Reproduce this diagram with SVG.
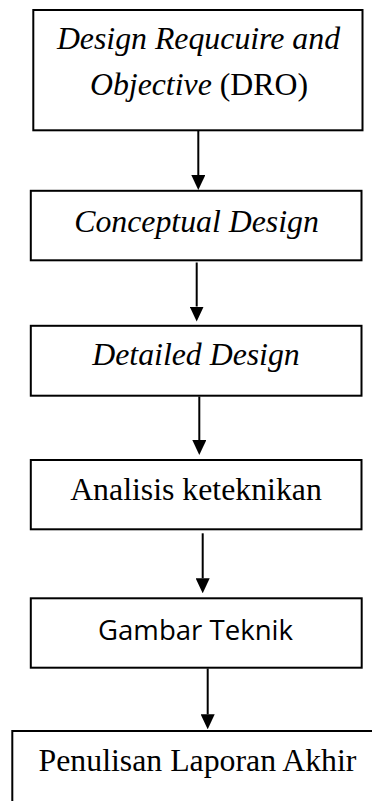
<svg xmlns="http://www.w3.org/2000/svg" width="372" height="801" viewBox="0 0 372 801">
  <style>
    .box { fill: #ffffff; stroke: #000000; stroke-width: 2; }
    .serif { font-family: "Liberation Serif", "Times New Roman", serif; font-size: 31.8px; fill: #000000; text-anchor: middle; }
    .it { font-style: italic; }
    .sans { font-family: "Open Sans", "Noto Sans", sans-serif; font-size: 28px; fill: #000000; text-anchor: middle; }
    .link { stroke: #000000; stroke-width: 2; fill: none; marker-end: url(#head); }
  </style>
  <defs>
    <marker id="head" viewBox="0 0 15 14" refX="0" refY="7" markerWidth="15" markerHeight="14" markerUnits="userSpaceOnUse" orient="auto">
      <path d="M0,0 L15,7 L0,14 z" fill="#000000"/>
    </marker>
  </defs>
  <rect width="372" height="801" fill="#ffffff"/>

  <!-- connectors: line stops at the head base, the head reaches the next box -->
  <g id="connectors">
    <line class="link" x1="198.3" y1="131" x2="198.3" y2="175"/>
    <line class="link" x1="196.7" y1="262.5" x2="196.7" y2="306.5"/>
    <line class="link" x1="199.3" y1="396.5" x2="199.3" y2="440"/>
    <line class="link" x1="202.7" y1="533.3" x2="202.7" y2="578.3"/>
    <line class="link" x1="207.7" y1="668.5" x2="207.7" y2="714.3"/>
  </g>

  <g id="dro">
    <rect class="box" x="33.3" y="10" width="329.2" height="120.3"/>
    <text class="serif it" x="198.5" y="49">Design Requcuire and</text>
    <text class="serif" x="199" y="94.5"><tspan class="it">Objective</tspan> (DRO)</text>
  </g>

  <g id="conceptual">
    <rect class="box" x="30.8" y="190.8" width="330.7" height="69.5"/>
    <text class="serif it" x="196.5" y="231.7">Conceptual Design</text>
  </g>

  <g id="detailed">
    <rect class="box" x="30.8" y="325.8" width="330.7" height="69.9"/>
    <text class="serif it" x="196" y="365">Detailed Design</text>
  </g>

  <g id="analisis">
    <rect class="box" x="30.8" y="460" width="330.7" height="69.3"/>
    <text class="serif" x="196" y="500">Analisis keteknikan</text>
  </g>

  <g id="gambar">
    <rect class="box" x="30.8" y="598.3" width="330.9" height="69.4"/>
    <text class="sans" x="195.5" y="639.5" textLength="195" lengthAdjust="spacingAndGlyphs">Gambar Teknik</text>
  </g>

  <g id="laporan">
    <rect class="box" x="12.3" y="731" width="380" height="90"/>
    <text class="serif" x="197.5" y="771">Penulisan Laporan Akhir</text>
  </g>
</svg>
